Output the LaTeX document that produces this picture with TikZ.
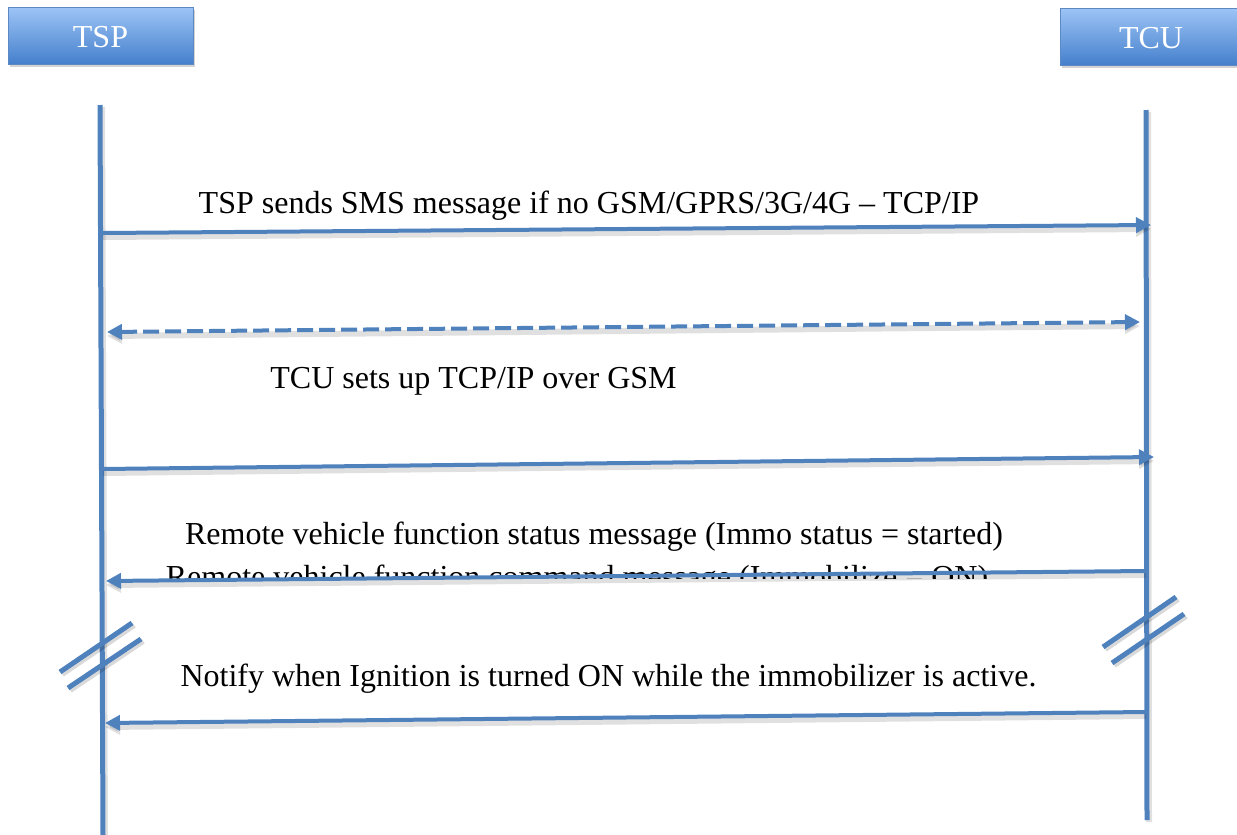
\documentclass[tikz,border=0pt]{standalone}
\usepackage{fontspec}
\setmainfont{Liberation Serif}
\usetikzlibrary{arrows.meta,shadows}
\definecolor{lineblue}{RGB}{79,129,189}
\definecolor{boxtop}{RGB}{157,196,246}
\definecolor{boxbot}{RGB}{69,128,204}
\definecolor{boxedge}{RGB}{92,136,196}
\begin{document}
\begin{tikzpicture}[x=1pt,y=-1pt,
  actor/.style={draw=boxedge, line width=1pt, top color=boxtop, bottom color=boxbot,
    text=white, font=\fontsize{32}{37}\selectfont, inner sep=0pt,
    text height=24pt, text depth=0pt,
    drop shadow={opacity=0.35, shadow xshift=2pt, shadow yshift=-3pt}},
  lifeline/.style={draw=lineblue, line width=5pt,
    preaction={draw=black, opacity=0.12, line width=6pt, transform canvas={xshift=2pt,yshift=-2pt}}},
  msg/.style={draw=lineblue, line width=4pt,
    preaction={draw=black, opacity=0.12, line width=6pt, transform canvas={yshift=-4pt}}},
  tip/.style={-{Triangle[length=15pt,width=15pt]}},
  breakmark/.style={draw=lineblue, line width=5pt,
    preaction={draw=black, opacity=0.15, line width=6pt, transform canvas={xshift=2pt,yshift=-2pt}}},
  label/.style={anchor=base, inner sep=0pt, font=\fontsize{32}{37}\selectfont}
]
\useasboundingbox (0,0) rectangle (1237,835);
\clip (0,0) rectangle (1237,835);

% participants
\node[actor, minimum width=185pt, minimum height=57pt] (tsp) at (100.5,35.5) {TSP};
\node[actor, minimum width=182pt, minimum height=57pt] (tcu) at (1151,36.5) {TCU};

% lifelines
\coordinate (tspTop) at (100,105);
\coordinate (tspEnd) at (103,835);
\coordinate (tcuTop) at (1146,110);
\coordinate (tcuEnd) at (1147,820);
\path[lifeline] (tspTop) -- (tspEnd);
\path[lifeline] (tcuTop) -- (tcuEnd);

% message end points on the lifelines
\coordinate (m1s) at (103,233);  \coordinate (m1e) at (1151,225);
\coordinate (m2s) at (107,332);  \coordinate (m2e) at (1140,322);
\coordinate (m3s) at (103,469);  \coordinate (m3e) at (1154,457);
\coordinate (m4s) at (1146,571); \coordinate (m4e) at (106,581);
\coordinate (m5s) at (1146,712); \coordinate (m5e) at (105,723);

% labels
\node[label] (l1) at (589,213) {TSP sends SMS message if no GSM/GPRS/3G/4G – TCP/IP};
\node[label] (l2) at (473.5,388) {TCU sets up TCP/IP over GSM};
\node[label] (l3) at (594,544) {Remote vehicle function status message (Immo status = started)};
\begin{scope}
  \clip (0,0) rectangle (1237,578);
  \node[label] (l4) at (577,587) {Remote vehicle function command message (Immobilize = ON)};
\end{scope}
\node[label] (l5) at (608.5,686) {Notify when Ignition is turned ON while the immobilizer is active.};

% messages
\path[msg, tip] (m1s) -- (m1e);
\path[msg, dash pattern=on 16pt off 6pt, {Triangle[length=15pt,width=15pt]}-{Triangle[length=15pt,width=15pt]}] (m2s) -- (m2e);
\path[msg, tip] (m3s) -- (m3e);
\path[msg, tip] (m4s) -- (m4e);
\path[msg, tip] (m5s) -- (m5e);

% time breaks
\coordinate (b1a) at (60,672);   \coordinate (b1b) at (132,623);
\coordinate (b2a) at (68,688);   \coordinate (b2b) at (141,639);
\coordinate (b3a) at (1103,647); \coordinate (b3b) at (1176,597);
\coordinate (b4a) at (1112,663); \coordinate (b4b) at (1184,614);
\path[breakmark] (b1a) -- (b1b);
\path[breakmark] (b2a) -- (b2b);
\path[breakmark] (b3a) -- (b3b);
\path[breakmark] (b4a) -- (b4b);
\end{tikzpicture}
\end{document}
